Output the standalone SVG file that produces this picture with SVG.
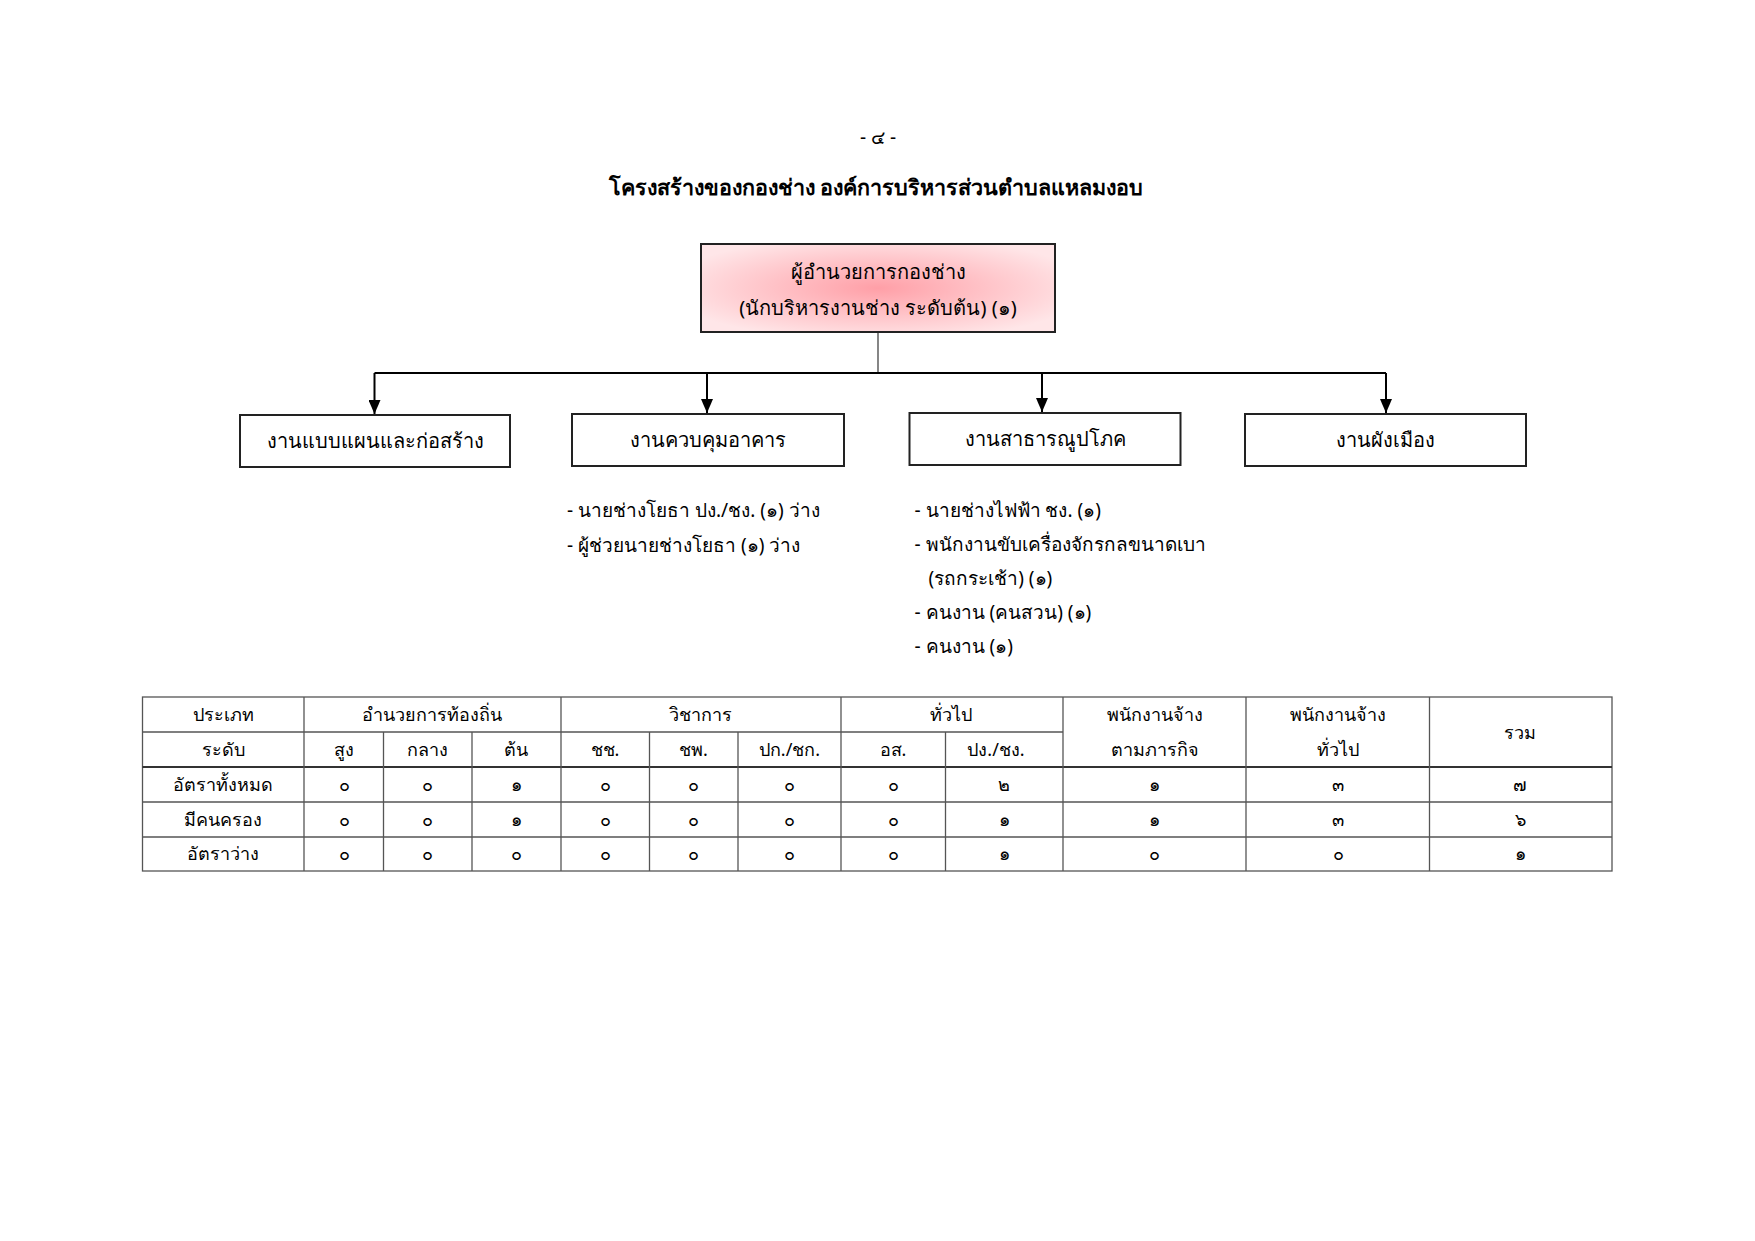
<svg xmlns="http://www.w3.org/2000/svg" width="1755" height="1241" viewBox="0 0 1755 1241">
<style>
text{font-family:"Noto Sans","DejaVu Sans",sans-serif;fill:#000;text-anchor:middle}
.pg{font-size:19px}
.title{font-size:21.5px;font-weight:bold}
.lbl{font-size:20px}
.lst{font-size:19px;text-anchor:start}
.tb{font-size:18px}
.box{fill:#fff;stroke:#222;stroke-width:2}
.tl{stroke:#555;stroke-width:1.3;fill:none}
.tk{stroke:#333;stroke-width:2.2;fill:none}
.conn{stroke:#000;stroke-width:2;fill:none}
</style>
<defs>
<radialGradient id="pink" cx="50%" cy="50%" r="60%">
<stop offset="0" stop-color="#ff9fa7"/>
<stop offset="1" stop-color="#ffe6e8"/>
</radialGradient>
<marker id="arr" viewBox="0 0 14 12" refX="14" refY="6" markerWidth="14" markerHeight="12" markerUnits="userSpaceOnUse" orient="auto">
<path d="M0,0 L14,6 L0,12 Z" fill="#000"/>
</marker>
</defs>
<rect width="1755" height="1241" fill="#fff"/>
<text class="pg" x="878" y="144">- ๔ -</text>
<text class="title" x="876" y="195">โครงสร้างของกองช่าง องค์การบริหารส่วนตำบลแหลมงอบ</text>

<g id="connectors">
<line x1="878" y1="332" x2="878" y2="373" stroke="#444" stroke-width="1.3"/>
<line class="conn" x1="374.5" y1="373" x2="1386" y2="373"/>
<line class="conn" x1="374.5" y1="373" x2="374.5" y2="414" marker-end="url(#arr)"/>
<line class="conn" x1="707" y1="373" x2="707" y2="413" marker-end="url(#arr)"/>
<line class="conn" x1="1042" y1="373" x2="1042" y2="412" marker-end="url(#arr)"/>
<line class="conn" x1="1386" y1="373" x2="1386" y2="413" marker-end="url(#arr)"/>
</g>

<g id="node-head">
<rect x="701" y="244" width="354" height="88" fill="url(#pink)" stroke="#222" stroke-width="2"/>
<text class="lbl" x="878" y="279">ผู้อำนวยการกองช่าง</text>
<text class="lbl" x="878" y="315">(นักบริหารงานช่าง ระดับต้น) (๑)</text>
</g>
<g id="node-design">
<rect class="box" x="240" y="415" width="270" height="52"/>
<text class="lbl" x="375" y="448">งานแบบแผนและก่อสร้าง</text>
</g>
<g id="node-building">
<rect class="box" x="572" y="414" width="272" height="52"/>
<text class="lbl" x="708" y="447">งานควบคุมอาคาร</text>
</g>
<g id="node-utility">
<rect class="box" x="909.5" y="413" width="271" height="52"/>
<text class="lbl" x="1045" y="446">งานสาธารณูปโภค</text>
</g>
<g id="node-town">
<rect class="box" x="1245" y="414" width="281" height="52"/>
<text class="lbl" x="1385.5" y="447">งานผังเมือง</text>
</g>

<g id="list-building">
<text class="lst" x="567" y="517">- นายช่างโยธา ปง./ชง. (๑) ว่าง</text>
<text class="lst" x="567" y="552">- ผู้ช่วยนายช่างโยธา (๑) ว่าง</text>
</g>
<g id="list-utility">
<text class="lst" x="914.5" y="517">- นายช่างไฟฟ้า ชง. (๑)</text>
<text class="lst" x="914.5" y="551">- พนักงานขับเครื่องจักรกลขนาดเบา</text>
<text class="lst" x="928.5" y="585">(รถกระเช้า) (๑)</text>
<text class="lst" x="914.5" y="619">- คนงาน (คนสวน) (๑)</text>
<text class="lst" x="914.5" y="653">- คนงาน (๑)</text>
</g>

<g id="table">
<rect class="tl" x="142.5" y="697" width="1469.5" height="174"/>
<line class="tl" x1="142.5" y1="732" x2="1063" y2="732"/>
<line class="tk" x1="142.5" y1="767" x2="1612" y2="767"/>
<line class="tl" x1="142.5" y1="802" x2="1612" y2="802"/>
<line class="tl" x1="142.5" y1="837" x2="1612" y2="837"/>
<line class="tl" x1="304" y1="697" x2="304" y2="871"/>
<line class="tl" x1="561" y1="697" x2="561" y2="871"/>
<line class="tl" x1="841" y1="697" x2="841" y2="871"/>
<line class="tl" x1="1063" y1="697" x2="1063" y2="871"/>
<line class="tl" x1="1246" y1="697" x2="1246" y2="871"/>
<line class="tl" x1="1429.5" y1="697" x2="1429.5" y2="871"/>
<line class="tl" x1="383.5" y1="732" x2="383.5" y2="871"/>
<line class="tl" x1="472" y1="732" x2="472" y2="871"/>
<line class="tl" x1="649.5" y1="732" x2="649.5" y2="871"/>
<line class="tl" x1="738" y1="732" x2="738" y2="871"/>
<line class="tl" x1="945.5" y1="732" x2="945.5" y2="871"/>

<g class="tb">
<text x="223" y="721">ประเภท</text>
<text x="432" y="721">อำนวยการท้องถิ่น</text>
<text x="700" y="721">วิชาการ</text>
<text x="951" y="721">ทั่วไป</text>
<text x="1154.5" y="721">พนักงานจ้าง</text>
<text x="1338" y="721">พนักงานจ้าง</text>
<text x="1520" y="739">รวม</text>
<text x="223" y="756">ระดับ</text>
<text x="344" y="756">สูง</text>
<text x="427.5" y="756">กลาง</text>
<text x="516" y="756">ต้น</text>
<text x="605" y="756">ชช.</text>
<text x="693.5" y="756">ชพ.</text>
<text x="789.5" y="756">ปก./ชก.</text>
<text x="893" y="756">อส.</text>
<text x="996" y="756">ปง./ชง.</text>
<text x="1154.5" y="756">ตามภารกิจ</text>
<text x="1338" y="756">ทั่วไป</text>

<text x="223" y="791">อัตราทั้งหมด</text>
<text x="344" y="791">๐</text><text x="427.5" y="791">๐</text><text x="516" y="791">๑</text>
<text x="605" y="791">๐</text><text x="693.5" y="791">๐</text><text x="789.5" y="791">๐</text>
<text x="893" y="791">๐</text><text x="1004" y="791">๒</text><text x="1154.5" y="791">๑</text>
<text x="1338" y="791">๓</text><text x="1520" y="791">๗</text>

<text x="223" y="826">มีคนครอง</text>
<text x="344" y="826">๐</text><text x="427.5" y="826">๐</text><text x="516" y="826">๑</text>
<text x="605" y="826">๐</text><text x="693.5" y="826">๐</text><text x="789.5" y="826">๐</text>
<text x="893" y="826">๐</text><text x="1004" y="826">๑</text><text x="1154.5" y="826">๑</text>
<text x="1338" y="826">๓</text><text x="1520" y="826">๖</text>

<text x="223" y="860">อัตราว่าง</text>
<text x="344" y="860">๐</text><text x="427.5" y="860">๐</text><text x="516" y="860">๐</text>
<text x="605" y="860">๐</text><text x="693.5" y="860">๐</text><text x="789.5" y="860">๐</text>
<text x="893" y="860">๐</text><text x="1004" y="860">๑</text><text x="1154.5" y="860">๐</text>
<text x="1338" y="860">๐</text><text x="1520" y="860">๑</text>
</g>
</g>
</svg>
